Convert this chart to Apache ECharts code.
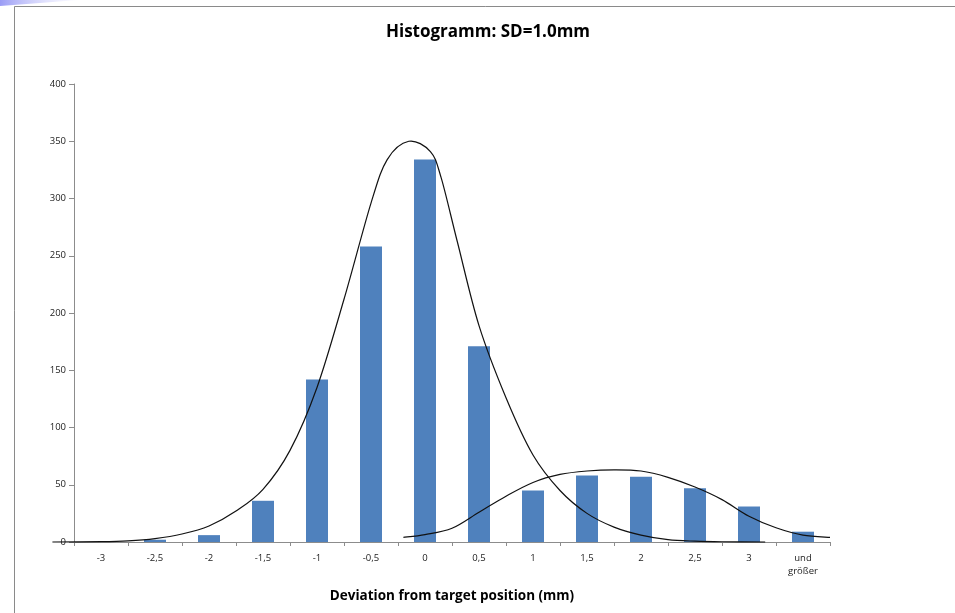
<!DOCTYPE html>
<html>
<head>
<meta charset="utf-8">
<script src="https://cdn.jsdelivr.net/npm/echarts@6/dist/echarts.min.js"></script>
<style>html,body{margin:0;padding:0;background:#fff;}#c{width:955px;height:613px;}</style>
</head>
<body>
<div id="c"></div>
<script>
const categories = ['-3','-2,5','-2','-1,5','-1','-0,5','0','0,5','1','1,5','2','2,5','3','und\ngrößer'];
const counts = [0, 2, 6, 36, 142, 258, 334, 171, 45, 58, 57, 47, 31, 9];
const yTicks = [0, 50, 100, 150, 200, 250, 300, 350, 400];

const curve1X = [-3.45, -3, -2.75, -2.5, -2.25, -2, -1.75, -1.5, -1.25, -1, -0.75, -0.5, -0.35, -0.15, 0.05, 0.15, 0.3, 0.5, 0.75, 1, 1.25, 1.5, 1.75, 2, 2.25, 2.5, 2.75, 3.15];
const curve1Y = [0, 0.3, 1, 3, 7, 14, 27, 46, 80, 135, 212, 296, 334, 350, 341, 318, 262, 189, 126, 76, 45, 25, 13, 6, 2, 0.7, 0.2, 0];
const curve2X = [-0.2, 0, 0.25, 0.5, 0.75, 1, 1.25, 1.5, 1.75, 2, 2.25, 2.5, 2.75, 3, 3.25, 3.5, 3.75];
const curve2Y = [4, 6.5, 12, 26, 40, 52, 59, 62, 63, 62, 56.5, 48, 37, 22.5, 12.4, 6, 4];

const chart = echarts.init(document.getElementById('c'), null, {renderer: 'canvas'});
const font = 'Open Sans';
const axisGray = '#8c8c8c';

// Smooth curve (Catmull-Rom -> cubic Bezier) through points mapped by the axes
function curveSeries(xs, ys) {
  const data = xs.map((x, i) => [x, ys[i]]);
  return {
    type: 'custom', xAxisIndex: 1, yAxisIndex: 0, data: data, z: 3, silent: true,
    renderItem: function (params, api) {
      if (params.dataIndex !== 0) return null;
      const p = data.map(d => api.coord(d));
      let s = 'M' + p[0][0] + ' ' + p[0][1];
      for (let i = 0; i < p.length - 1; i++) {
        const p0 = p[i - 1] || p[i], p1 = p[i], p2 = p[i + 1], p3 = p[i + 2] || p[i + 1];
        const c1 = [p1[0] + (p2[0] - p0[0]) / 6, p1[1] + (p2[1] - p0[1]) / 6];
        const c2 = [p2[0] - (p3[0] - p1[0]) / 6, p2[1] - (p3[1] - p1[1]) / 6];
        s += ' C' + c1[0] + ' ' + c1[1] + ' ' + c2[0] + ' ' + c2[1] + ' ' + p2[0] + ' ' + p2[1];
      }
      return {
        type: 'path', shape: {pathData: s},
        style: {fill: null, stroke: '#111', lineWidth: 1.2}
      };
    }
  };
}

chart.setOption({
  animation: false,
  backgroundColor: '#fff',
  title: {
    text: 'Histogramm: SD=1.0mm',
    left: 483, top: 19, textAlign: 'center',
    textStyle: {fontFamily: font, fontSize: 17, fontWeight: 'bold', color: '#000'}
  },
  graphic: [
    {type: 'polygon', shape: {points: [[0,0],[78,0],[40,3],[0,6]]},
     style: {fill: new echarts.graphic.LinearGradient(0,0,1,0,[{offset:0,color:'#9a9cf5'},{offset:1,color:'rgba(230,230,255,0.2)'}])}, silent: true},
    {type: 'rect', shape: {x: 14.5, y: 6.5, width: 1000, height: 1000},
     style: {fill: 'none', stroke: '#8a8a8a', lineWidth: 1}, silent: true, z: 0}
  ],
  grid: {left: 74, right: 125, top: 84, bottom: 71, containLabel: false},
  xAxis: [
    {
      type: 'category', data: categories, boundaryGap: true,
      axisLine: {lineStyle: {color: axisGray, width: 1}},
      axisTick: {show: true, length: 4, lineStyle: {color: axisGray}},
      axisLabel: {fontFamily: font, fontSize: 9.5, color: '#222', margin: 10, lineHeight: 13, interval: 0},
      name: 'Deviation from target position (mm)',
      nameLocation: 'middle', nameGap: 47,
      nameTextStyle: {fontFamily: font, fontSize: 13.5, fontWeight: 'bold', color: '#000'}
    },
    {
      type: 'value', min: -3.25, max: 3.75, show: false
    }
  ],
  yAxis: {
    type: 'value', min: yTicks[0], max: yTicks[yTicks.length-1], interval: 50,
    axisLine: {show: true, onZero: false, lineStyle: {color: axisGray, width: 1}},
    axisTick: {show: true, length: 5, lineStyle: {color: axisGray}},
    splitLine: {show: false},
    axisLabel: {fontFamily: font, fontSize: 9.5, color: '#222', margin: 8}
  },
  series: [
    {
      type: 'bar', data: counts, xAxisIndex: 0, barWidth: 22,
      itemStyle: {color: '#4f81bd'}, z: 2
    },
    curveSeries(curve1X, curve1Y),
    curveSeries(curve2X, curve2Y)
  ]
});
</script>
</body>
</html>
